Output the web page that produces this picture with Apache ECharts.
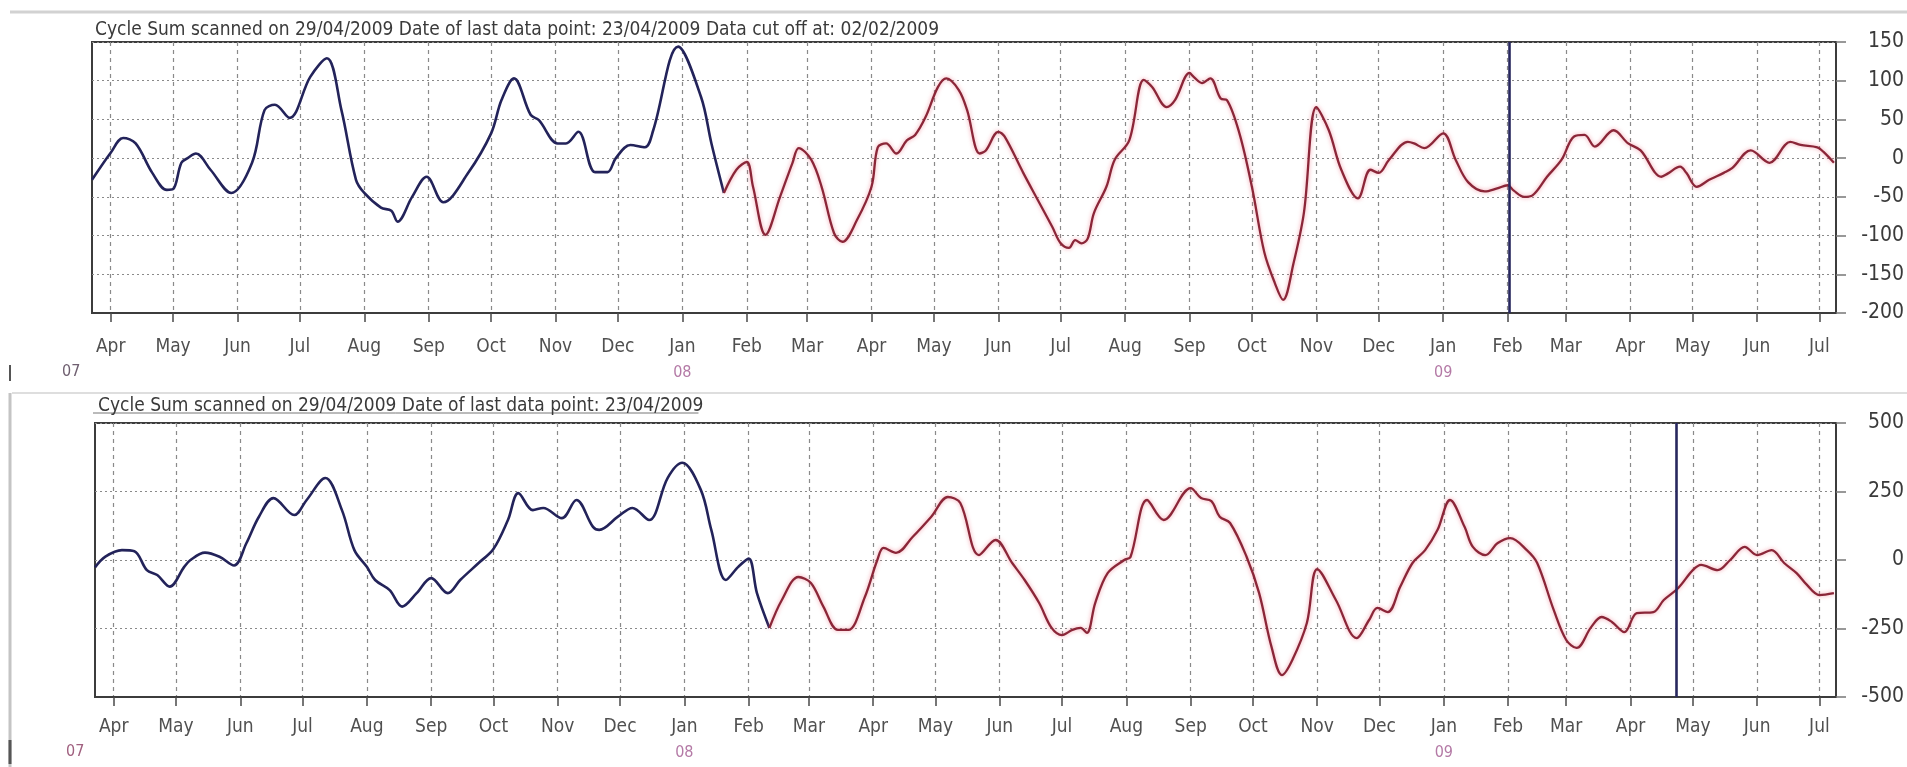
<!DOCTYPE html>
<html>
<head>
<meta charset="utf-8">
<script src="https://cdn.jsdelivr.net/npm/echarts@6/dist/echarts.min.js"></script>
<style>
  html, body { margin: 0; padding: 0; background: #ffffff; }
  #chart { width: 1907px; height: 767px; }
</style>
</head>
<body>
<div id="chart"></div>
<script>
// ---- Axis range, month ticks and labels ----
const axisStart = '2007-03-23';
const axisEnd = '2009-07-09';
const monthTicks = [
  '2007-04-01','2007-05-01','2007-06-01','2007-07-01','2007-08-01','2007-09-01','2007-10-01',
  '2007-11-01','2007-12-01','2008-01-01','2008-02-01','2008-03-01','2008-04-01','2008-05-01',
  '2008-06-01','2008-07-01','2008-08-01','2008-09-01','2008-10-01','2008-11-01','2008-12-01',
  '2009-01-01','2009-02-01','2009-03-01','2009-04-01','2009-05-01','2009-06-01','2009-07-01'
];
const monthLabels = [
  'Apr','May','Jun','Jul','Aug','Sep','Oct','Nov','Dec','Jan','Feb','Mar','Apr','May',
  'Jun','Jul','Aug','Sep','Oct','Nov','Dec','Jan','Feb','Mar','Apr','May','Jun','Jul'
];
const yearTags = [
  '','','','','','','','','','08','','','','',
  '','','','','','','','09','','','','','',''
];
const firstYearTag = '07';

// ---- Titles and marker dates ----
const topTitle = 'Cycle Sum scanned on 29/04/2009 Date of last data point: 23/04/2009 Data cut off at: 02/02/2009';
const bottomTitle = 'Cycle Sum scanned on 29/04/2009 Date of last data point: 23/04/2009';
const topCutDate = '2009-02-02';
const bottomCutDate = '2009-04-23';

// ---- Upper panel: fitted history (blue) and projection (red) ----
const topBlueDates = [
  '2007-03-23','2007-04-01','2007-04-07','2007-04-13','2007-04-21','2007-04-28','2007-05-01','2007-05-05',
  '2007-05-08','2007-05-12','2007-05-19','2007-05-29','2007-06-08','2007-06-14','2007-06-19','2007-06-26',
  '2007-07-06','2007-07-14','2007-07-21','2007-07-28','2007-08-01','2007-08-09','2007-08-14','2007-08-17',
  '2007-08-24','2007-08-31','2007-09-08','2007-09-20','2007-10-01','2007-10-06','2007-10-12','2007-10-20',
  '2007-10-24','2007-11-02','2007-11-06','2007-11-12','2007-11-20','2007-11-26','2007-11-30','2007-12-07',
  '2007-12-14','2007-12-18','2007-12-30','2008-01-10','2008-01-15','2008-01-21'
];
const topBlueVals = [
  -28, 7, 26, 19, -19, -41, -40, -6,
  0, 6, -15, -45, -6, 62, 69, 52,
  105, 129, 62, -28, -45, -64, -68, -82,
  -50, -24, -57, -19, 32, 75, 103, 56,
  49, 19, 19, 34, -18, -18, 0, 17,
  14, 36, 144, 79, 19, -45
];
const topRedDates = [
  '2008-01-21','2008-01-27','2008-02-01','2008-02-04','2008-02-10','2008-02-17','2008-02-23','2008-02-26',
  '2008-03-03','2008-03-08','2008-03-14','2008-03-18','2008-03-25','2008-04-01','2008-04-04','2008-04-08',
  '2008-04-13','2008-04-18','2008-04-22','2008-04-27','2008-05-03','2008-05-07','2008-05-13','2008-05-17',
  '2008-05-23','2008-05-26','2008-06-01','2008-06-04','2008-06-13','2008-06-20','2008-06-27','2008-07-01',
  '2008-07-05','2008-07-08','2008-07-11','2008-07-14','2008-07-17','2008-07-23','2008-07-27','2008-08-03',
  '2008-08-10','2008-08-14','2008-08-21','2008-08-25','2008-09-01','2008-09-03','2008-09-07','2008-09-11',
  '2008-09-16','2008-09-19','2008-09-25','2008-10-01','2008-10-07','2008-10-12','2008-10-16','2008-10-21',
  '2008-10-26','2008-11-01','2008-11-07','2008-11-13','2008-11-21','2008-11-27','2008-12-01','2008-12-06',
  '2008-12-15','2008-12-18','2008-12-23','2009-01-01','2009-01-07','2009-01-13','2009-01-21','2009-01-27',
  '2009-02-01','2009-02-04','2009-02-09','2009-02-13','2009-02-20','2009-02-27','2009-03-05','2009-03-10',
  '2009-03-15','2009-03-24','2009-03-31','2009-04-06','2009-04-16','2009-04-19','2009-04-25','2009-04-28',
  '2009-05-03','2009-05-09','2009-05-16','2009-05-20','2009-05-29','2009-06-07','2009-06-17','2009-06-22',
  '2009-06-30','2009-07-03','2009-07-08'
];
const topRedVals = [
  -45, -15, -5, -37, -99, -50, -6, 13,
  -2, -37, -97, -108, -80, -37, 14, 19,
  6, 23, 30, 53, 92, 103, 88, 62,
  6, 10, 34, 28, -19, -54, -89, -110,
  -116, -106, -110, -104, -71, -37, -2, 23,
  101, 92, 66, 75, 110, 105, 97, 103,
  77, 75, 32, -37, -122, -161, -183, -136,
  -71, 66, 36, -15, -52, -15, -19, -2,
  21, 19, 13, 32, -2, -31, -43, -39,
  -35, -42, -50, -48, -24, -2, 28, 30,
  15, 36, 19, 10, -24, -20, -11, -19,
  -37, -28, -19, -13, 10, -6, 21, 17,
  14, 8, -6
];

// ---- Lower panel: fitted history (blue) and projection (red) ----
const botBlueDates = [
  '2007-03-23','2007-03-28','2007-04-05','2007-04-11','2007-04-17','2007-04-22','2007-04-28','2007-05-05',
  '2007-05-08','2007-05-15','2007-05-22','2007-05-29','2007-06-04','2007-06-10','2007-06-17','2007-06-27',
  '2007-07-03','2007-07-12','2007-07-20','2007-07-26','2007-08-01','2007-08-05','2007-08-12','2007-08-18',
  '2007-08-25','2007-09-01','2007-09-09','2007-09-15','2007-09-24','2007-10-01','2007-10-08','2007-10-13',
  '2007-10-20','2007-10-25','2007-11-03','2007-11-10','2007-11-18','2007-11-21','2007-11-30','2007-12-07',
  '2007-12-15','2007-12-24','2007-12-31','2008-01-09','2008-01-14','2008-01-21','2008-01-27','2008-02-01',
  '2008-02-05','2008-02-11'
];
const botBlueVals = [
  -27, 12, 36, 32, -37, -55, -97, -25,
  0, 27, 12, -20, 62, 158, 226, 164,
  219, 299, 182, 36, -25, -73, -110, -170,
  -121, -66, -121, -73, -10, 40, 146, 244,
  182, 190, 153, 219, 121, 110, 158, 190,
  146, 300, 355, 255, 110, -73, -25, 5,
  -121, -248
];
const botRedDates = [
  '2008-02-11','2008-02-17','2008-02-25','2008-03-02','2008-03-08','2008-03-15','2008-03-20','2008-03-28',
  '2008-04-03','2008-04-06','2008-04-12','2008-04-20','2008-04-29','2008-05-07','2008-05-13','2008-05-22',
  '2008-05-30','2008-06-07','2008-06-13','2008-06-20','2008-06-26','2008-07-01','2008-07-06','2008-07-10',
  '2008-07-13','2008-07-17','2008-07-23','2008-07-31','2008-08-03','2008-08-11','2008-08-19','2008-09-01',
  '2008-09-06','2008-09-11','2008-09-15','2008-09-20','2008-09-28','2008-10-04','2008-10-10','2008-10-15',
  '2008-10-20','2008-10-27','2008-11-01','2008-11-10','2008-11-20','2008-11-26','2008-11-30','2008-12-05',
  '2008-12-11','2008-12-17','2008-12-23','2008-12-29','2009-01-04','2009-01-11','2009-01-15','2009-01-21',
  '2009-01-27','2009-02-02','2009-02-10','2009-02-15','2009-02-23','2009-03-01','2009-03-06','2009-03-13',
  '2009-03-18','2009-03-23','2009-03-29','2009-04-04','2009-04-12','2009-04-17','2009-04-24','2009-05-01',
  '2009-05-05','2009-05-13','2009-05-19','2009-05-26','2009-06-01','2009-06-08','2009-06-14','2009-06-20',
  '2009-06-25','2009-07-01','2009-07-08'
];
const botRedVals = [
  -248, -146, -62, -84, -170, -255, -255, -135,
  0, 44, 26, 84, 158, 230, 208, 18,
  73, -11, -73, -157, -248, -274, -255, -248,
  -266, -157, -48, 0, 11, 219, 146, 262,
  226, 215, 158, 135, 11, -121, -318, -420,
  -365, -230, -33, -146, -285, -219, -175, -190,
  -98, -10, 36, 110, 219, 121, 48, 18,
  62, 80, 36, -11, -183, -292, -321, -245,
  -208, -226, -263, -194, -190, -146, -102, -37,
  -18, -37, 0, 48, 18, 36, -11, -48,
  -91, -128, -121
];

// ---- Drawing ----
const FONT = "'Liberation Sans Narrow','DejaVu Sans Condensed','Liberation Sans',Arial,sans-serif";
const TITLE_SIZE = 19;
const parseT = s => echarts.time.parse(s).getTime();
const monthTs = monthTicks.map(parseT);
// the date axis is a numeric axis of timestamps so that month ticks can be placed exactly
const pairs = (ds, vs) => ds.map((d, i) => [parseT(d), vs[i]]);

function monthFormatter(v) {
  let idx = 0, best = Infinity;
  monthTs.forEach((t, i) => { const d = Math.abs(t - v); if (d < best) { best = d; idx = i; } });
  return yearTags[idx] ? monthLabels[idx] + '\n{yr|' + yearTags[idx] + '}' : monthLabels[idx];
}

function xAxisFor(gridIndex, labelMargin) {
  return {
    type: 'value', gridIndex,
    min: parseT(axisStart), max: parseT(axisEnd),
    axisLine: { show: true, onZero: false, lineStyle: { color: '#3c3c3c', width: 2 } },
    axisTick: { show: true, length: 9, customValues: monthTs, lineStyle: { color: '#4a4a4a', width: 1.5 } },
    axisLabel: {
      customValues: monthTs, formatter: monthFormatter, margin: labelMargin,
      color: '#505050', fontFamily: FONT, fontSize: 19, lineHeight: 26,
      rich: { yr: { color: '#b47aa6', fontFamily: FONT, fontSize: 16, lineHeight: 26 } }
    },
    splitLine: { show: true, lineStyle: { color: '#8a8a8a', width: 1.2, type: [4, 4] } }
  };
}

function yAxisFor(gridIndex, min, max, interval) {
  return {
    type: 'value', gridIndex, position: 'right', min, max, interval,
    axisLine: { show: true, lineStyle: { color: '#3c3c3c', width: 2 } },
    axisTick: { show: true, length: 10, lineStyle: { color: '#777', width: 1.5 } },
    axisLabel: { color: '#3a3a3a', fontFamily: FONT, fontSize: 21, align: 'right', margin: 68 },
    splitLine: { show: true, lineStyle: { color: '#8a8a8a', width: 1.2, type: [2, 3] } }
  };
}

const blueLine = { color: '#23235a', width: 2.6 };
const redLine = { color: '#8a2638', width: 2.3, shadowColor: 'rgba(235,95,115,0.6)', shadowBlur: 4 };

function cutMarker(date) {
  return {
    silent: true, symbol: ['none', 'none'], label: { show: false },
    lineStyle: { color: '#27275e', width: 2.6, type: 'solid' },
    data: [{ xAxis: parseT(date) }]
  };
}

// width of the lower title, used for the rule drawn beneath it
const measureCtx = document.createElement('canvas').getContext('2d');
measureCtx.font = TITLE_SIZE + 'px ' + FONT;
const bottomTitleWidth = measureCtx.measureText(bottomTitle).width;

const chart = echarts.init(document.getElementById('chart'), null, { renderer: 'canvas' });
chart.setOption({
  animation: false,
  backgroundColor: '#ffffff',
  title: [
    { text: topTitle, left: 90, top: 16, textStyle: { fontFamily: FONT, fontSize: TITLE_SIZE, fontWeight: 'normal', color: '#3a3a3a' } },
    { text: bottomTitle, left: 93, top: 392, textStyle: { fontFamily: FONT, fontSize: TITLE_SIZE, fontWeight: 'normal', color: '#3a3a3a' } }
  ],
  grid: [
    { left: 92, right: 69, top: 42, height: 271, show: true, borderColor: '#3c3c3c', borderWidth: 2, backgroundColor: 'transparent' },
    { left: 95, right: 67, top: 423, height: 274, show: true, borderColor: '#3c3c3c', borderWidth: 2, backgroundColor: 'transparent' }
  ],
  xAxis: [xAxisFor(0, 21), xAxisFor(1, 17)],
  yAxis: [yAxisFor(0, -200, 150, 50), yAxisFor(1, -500, 500, 250)],
  series: [
    { type: 'line', xAxisIndex: 0, yAxisIndex: 0, data: pairs(topBlueDates, topBlueVals), smooth: 0.35, showSymbol: false, lineStyle: blueLine, z: 3 },
    { type: 'line', xAxisIndex: 0, yAxisIndex: 0, data: pairs(topRedDates, topRedVals), smooth: 0.35, showSymbol: false, lineStyle: redLine, z: 3, markLine: cutMarker(topCutDate) },
    { type: 'line', xAxisIndex: 1, yAxisIndex: 1, data: pairs(botBlueDates, botBlueVals), smooth: 0.35, showSymbol: false, lineStyle: blueLine, z: 3 },
    { type: 'line', xAxisIndex: 1, yAxisIndex: 1, data: pairs(botRedDates, botRedVals), smooth: 0.35, showSymbol: false, lineStyle: redLine, z: 3, markLine: cutMarker(bottomCutDate) }
  ],
  // window frame lines, the rule under the lower title and the leading year tags
  graphic: [
    { type: 'line', shape: { x1: 10, y1: 12, x2: 1907, y2: 12 }, style: { stroke: '#d2d2d2', lineWidth: 3 }, silent: true },
    { type: 'line', shape: { x1: 12, y1: 393, x2: 1907, y2: 393 }, style: { stroke: '#dedede', lineWidth: 2 }, silent: true },
    { type: 'line', shape: { x1: 10, y1: 393, x2: 10, y2: 767 }, style: { stroke: '#c4c4c4', lineWidth: 3 }, silent: true },
    { type: 'line', shape: { x1: 10, y1: 365, x2: 10, y2: 381 }, style: { stroke: '#555', lineWidth: 2 }, silent: true },
    { type: 'line', shape: { x1: 10, y1: 740, x2: 10, y2: 764 }, style: { stroke: '#555', lineWidth: 3 }, silent: true },
    { type: 'line', shape: { x1: 93, y1: 413, x2: 93 + bottomTitleWidth, y2: 413 }, style: { stroke: '#777', lineWidth: 1 }, silent: true },
    { type: 'text', left: 62, top: 364, style: { text: firstYearTag, fill: '#6f5f70', font: '16px ' + FONT } },
    { type: 'text', left: 66, top: 744, style: { text: firstYearTag, fill: '#a0607f', font: '16px ' + FONT } }
  ]
});
</script>
</body>
</html>
